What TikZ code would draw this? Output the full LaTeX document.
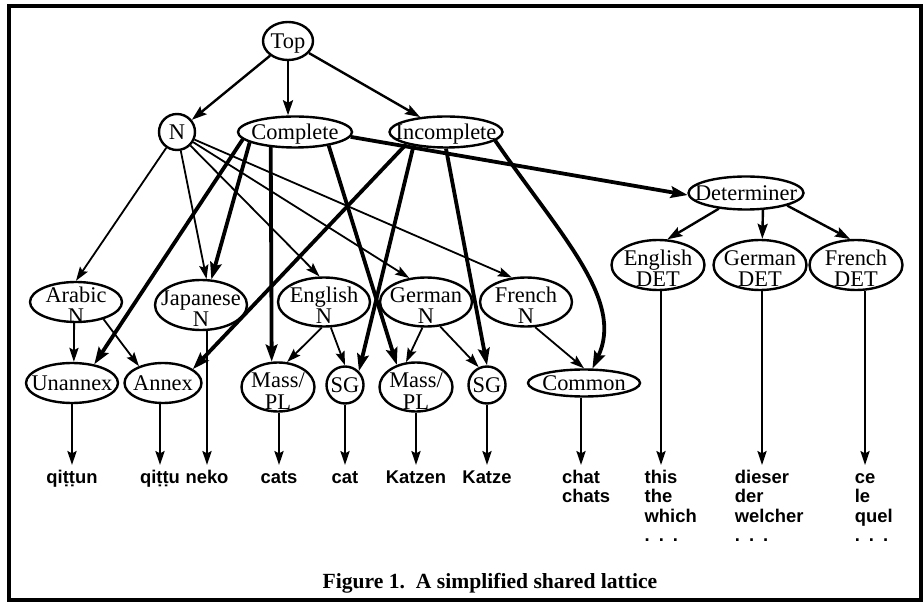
\documentclass[tikz,border=0pt]{standalone}
\usepackage{fontspec}
\setmainfont{Liberation Serif}
\newfontfamily\leaffont{Liberation Sans}
\usepackage{tikz}
\usetikzlibrary{shapes.geometric}
\usetikzlibrary{arrows.meta}
\newcommand{\lbl}[1]{\makebox[0pt]{\raisebox{-3.8pt}[0pt][0pt]{#1}}}
\newcommand{\lblii}[2]{\makebox[0pt]{\raisebox{-0.3pt}[0pt][0pt]{#1}}\makebox[0pt]{\raisebox{-11pt}[0pt][0pt]{#2}}}
\newcommand{\wl}[1]{\begin{tabular}[t]{@{}l@{}}#1\end{tabular}}
\newcommand{\dts}{.\hspace{4.5pt}.\hspace{4.5pt}.}
\tikzstyle{lattice}=[x=0.5pt, y=-0.5pt, font=\fontsize{11.2}{13}\selectfont]
\tikzstyle{type}=[ellipse, draw, line width=1.2pt, inner sep=0pt]
\tikzstyle{ring}=[circle, draw, line width=1.2pt, inner sep=0pt]
\tikzstyle{word}=[anchor=north, inner sep=0pt, font=\leaffont\bfseries\fontsize{9.2}{9.8}\selectfont]
\tikzstyle{isa}=[-{Stealth[length=7.5pt,width=5pt,inset=1.2pt]}, line width=1.2pt]
\tikzstyle{link}=[-{Stealth[length=7pt,width=4.6pt,inset=1.2pt]}, line width=0.9pt]
\tikzstyle{heavy}=[-{Stealth[length=8.5pt,width=5.8pt,inset=1.4pt]}, line width=1.9pt]
\tikzstyle{drop}=[link, shorten >=2pt]

\begin{document}
\begin{tikzpicture}[lattice]
	\useasboundingbox (0,0) rectangle (924,603);
	\draw[line width=1.6pt] (9,6) rectangle (921,600);

	%The upper types
	\draw (288,41) node[type, minimum width=25pt, minimum height=19pt] (top) {\lbl{Top}};
	\draw (177,132) node[ring, minimum size=18pt] (n) {\lbl{N}};
	\draw (295,132) node[type, minimum width=57pt, minimum height=15.5pt] (complete) {\lbl{Complete}};
	\draw (446,132) node[type, minimum width=56.5pt, minimum height=15.5pt] (incomplete) {\lbl{Incomplete}};
	\draw (746,193) node[type, minimum width=57.5pt, minimum height=16.5pt] (determiner) {\lbl{Determiner}};

	%The language nouns
	\draw (76,302) node[type, minimum width=46pt, minimum height=20pt] (arabic) {\lblii{Arabic}{N}};
	\draw (201,305) node[type, minimum width=46pt, minimum height=25pt] (japanese) {\lblii{Japanese}{N}};
	\draw (324,302) node[type, minimum width=46pt, minimum height=24.5pt] (english) {\lblii{English}{N}};
	\draw (426,302) node[type, minimum width=46pt, minimum height=24.5pt] (german) {\lblii{German}{N}};
	\draw (526,302) node[type, minimum width=46pt, minimum height=24.5pt] (french) {\lblii{French}{N}};

	%The determiners
	\draw (658,265) node[type, minimum width=46.5pt, minimum height=25pt] (engdet) {\lblii{English}{DET}};
	\draw (760,265) node[type, minimum width=46.5pt, minimum height=25pt] (gerdet) {\lblii{German}{DET}};
	\draw (856,265) node[type, minimum width=46.5pt, minimum height=25pt] (fredet) {\lblii{French}{DET}};

	%The forms
	\draw (72,383) node[type, minimum width=46pt, minimum height=20pt] (unannex) {\lbl{Unannex}};
	\draw (163,383) node[type, minimum width=38.5pt, minimum height=20pt] (annex) {\lbl{Annex}};
	\draw (278,387) node[type, minimum width=36.5pt, minimum height=24.5pt] (masspl1) {\lblii{Mass/}{PL}};
	\draw (345,385) node[ring, minimum size=18.5pt] (sg1) {\lbl{SG}};
	\draw (416,387) node[type, minimum width=36.5pt, minimum height=24.5pt] (masspl2) {\lblii{Mass/}{PL}};
	\draw (487,385) node[ring, minimum size=18.5pt] (sg2) {\lbl{SG}};
	\draw (584,383) node[type, minimum width=56pt, minimum height=13.5pt] (common) {\lbl{Common}};

	%The words
	\node[word] (qittun) at (72,469) {\wl{qiṭṭun}};
	\node[word] (qittu) at (160,469) {\wl{qiṭṭu}};
	\node[word] (neko) at (207,469) {\wl{neko}};
	\node[word] (cats) at (279,469) {\wl{cats}};
	\node[word] (cat) at (345,469) {\wl{cat}};
	\node[word] (katzen) at (416,469) {\wl{Katzen}};
	\node[word] (katze) at (487,469) {\wl{Katze}};
	\node[word] (chat) at (581,469) {\wl{chat\\\rlap{chats}}};
	\node[word] (this) at (661,469) {\wl{this\\\rlap{the}\\\rlap{which}\\\rlap{\dts}}};
	\node[word] (dieser) at (762,469) {\wl{dieser\\\rlap{der}\\\rlap{welcher}\\\rlap{\dts}}};
	\node[word] (ce) at (865,469) {\wl{ce\\\rlap{le}\\\rlap{quel}\\\rlap{\dts}}};

	\node[font=\bfseries\fontsize{10.8}{12}\selectfont] (caption) at (490,583) {Figure 1.\ \ A simplified shared lattice};

	%Edges from the top
	\draw[isa] (top) -- (n);
	\draw[isa] (top.south) -- (top.south |- complete.north);
	\draw[isa] (top) -- (incomplete);

	%Edges from N
	\draw[link] (n) -- (arabic.north);
	\draw[link] (n) -- (japanese.78);
	\draw[link] (n) -- (english.100);
	\draw[link] (n) -- (german.125);
	\draw[link] (n) -- (french.120);

	%Edges from Complete
	\draw[heavy] (complete.188) -- (unannex.40);
	\draw[heavy] (complete.193) -- (japanese.68);
	\draw[heavy] (complete.212) -- (masspl1.104);
	\draw[heavy] (complete.338) -- (masspl2.131);
	\draw[heavy] (complete.355) -- (determiner.182);

	%Edges from Incomplete
	\draw[heavy] (incomplete.197) -- (annex.25);
	\draw[heavy] (incomplete.203) -- (sg1.45);
	\draw[heavy] (incomplete.south) -- (sg2.north);
	\draw[heavy] (incomplete.350) .. controls (560,235) and (625,300) .. (common.60);

	%Edges from the language nouns
	\draw[link] (arabic.265) -- (unannex.85);
	\draw[link] (arabic.328) -- (annex.145);
	\draw[link] (english.265) -- (masspl1.70);
	\draw[link] (english.285) -- (sg1.north);
	\draw[link] (german.262) -- (masspl2.112);
	\draw[link] (german.300) -- (sg2.115);
	\draw[link] (french.290) -- (common.north);

	%Edges from Determiner
	\draw[isa] (determiner.210) -- (engdet.70);
	\draw[isa] (determiner.315) -- (gerdet.85);
	\draw[isa] (determiner.343) -- (fredet.103);

	%Edges to the words
	\foreach \t/\w in {unannex/qittun, annex/qittu, japanese/neko, masspl1/cats, sg1/cat, masspl2/katzen, sg2/katze, common/chat, engdet/this, gerdet/dieser, fredet/ce}
		\draw[drop] (\w |- \t.south) -- (\w.north);
\end{tikzpicture}
\end{document}
